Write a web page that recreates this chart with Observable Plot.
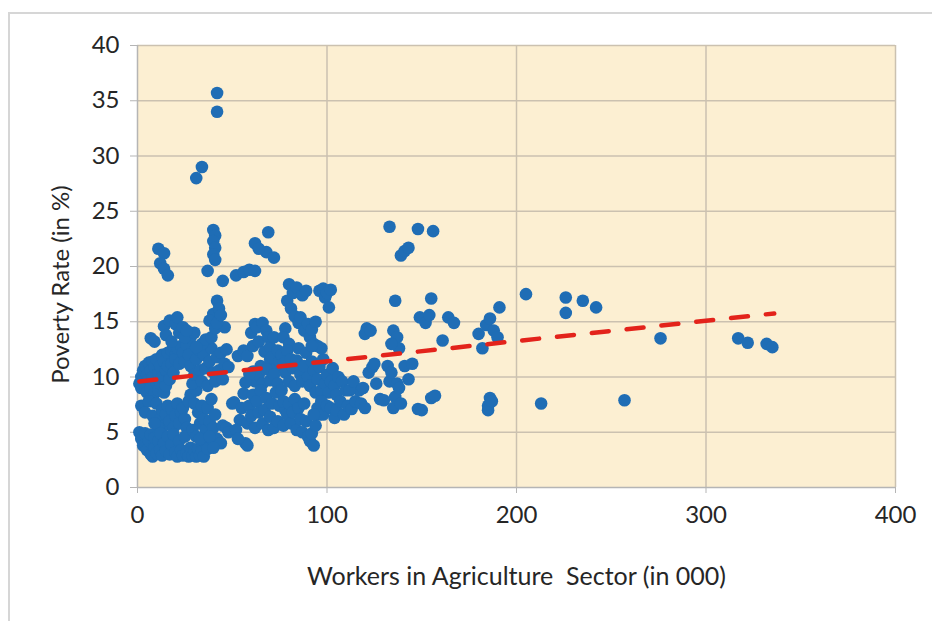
<!DOCTYPE html>
<html>
<head>
<meta charset="utf-8">
<script src="https://cdn.jsdelivr.net/npm/d3@7"></script>
<script src="https://cdn.jsdelivr.net/npm/@observablehq/plot@0.6"></script>
<style>
  html, body { margin: 0; padding: 0; background: #fff; }
  #wrap { position: relative; width: 932px; height: 621px; overflow: hidden; }
  #border { position: absolute; left: 8px; top: 12px; width: 940px; height: 640px; border: 2px solid #d6d6d6; box-sizing: border-box; }
  #chart { position: absolute; left: 0; top: 0; }
</style>
</head>
<body>
<div id="wrap"><div id="border"></div><div id="chart"></div></div>
<script>
// Workers in agriculture sector (in 000) and poverty rate (in %)
const workers = [
  42,42,34,31,
  40,41,40,41,40,41,37,45,52,56,59,62,
  11,14,12,14,16,
  62,69,68,72,64,
  1,2,2,3,3,4,4,5,5,6,6,7,7,8,8,9,9,10,10,11,11,12,12,13,13,14,14,15,15,16,16,17,18,18,19,20,20,21,22,23,24,25,26,27,28,
  2,4,6,8,10,12,13,14,15,16,17,18,19,20,21,22,23,24,25,11,9,26,27,
  1,2,3,4,5,6,7,7,8,9,9,10,11,12,12,13,14,15,16,17,18,19,20,21,22,23,24,25,26,27,28,29,30,31,32,33,34,35,36,37,
  28,30,31,32,33,34,35,36,37,38,39,40,41,42,44,45,47,48,50,29,31,33,38,40,
  29,30,31,32,33,34,35,36,37,38,39,40,41,42,43,44,45,46,48,47,34,36,28,31,
  7,9,14,15,17,18,20,21,22,24,25,39,40,38,41,42,43,46,42,44,30,26,
  53,56,58,60,61,62,63,64,65,66,67,68,69,70,70,71,72,73,74,75,61,62,64,66,68,70,72,74,57,59,
  51,54,55,56,57,58,59,60,61,62,63,64,65,66,67,68,69,70,71,72,73,74,75,76,77,78,58,52,53,
  79,80,81,82,83,84,85,86,87,88,89,90,91,92,93,95,96,98,99,100,101,102,94,78,77,80,
  76,77,78,79,80,81,82,83,84,85,86,87,88,89,90,91,92,93,94,95,96,97,98,99,100,101,102,103,104,105,106,108,110,97,92,
  77,79,80,81,82,83,84,85,86,87,88,89,90,91,92,93,94,95,96,97,98,100,102,104,105,107,109,111,93,
  113,115,117,118,120,122,124,125,126,128,130,132,133,134,135,136,137,138,139,141,143,145,148,112,114,119,121,120,123,135,137,138,136,134,
  133,148,156,139,141,143,155,149,152,154,155,157,150,
  161,164,167,180,182,184,186,188,190,191,205,226,226,235,242,186,185,185,187,213,257,276,317,322,332,335
];
const poverty = [
  35.7,34.0,29.0,28.0,
  23.3,22.8,22.3,21.7,21.1,20.6,19.6,18.7,19.2,19.5,19.7,19.6,
  21.6,21.2,20.3,19.8,19.2,
  22.1,23.1,21.3,20.8,21.6,
  9.4,10.0,9.0,10.6,9.6,11.0,9.2,10.2,8.6,11.3,9.8,10.6,9.0,11.4,10.0,8.5,10.9,9.5,11.6,10.3,8.8,11.0,9.4,12.0,10.0,11.4,8.6,10.6,9.2,12.2,11.0,9.8,12.4,11.2,10.4,12.0,11.6,12.6,11.2,12.8,12.2,11.4,12.9,12.0,11.0,
  7.4,6.8,7.8,6.5,7.6,6.2,7.0,5.6,6.6,7.4,6.0,7.1,5.4,6.5,7.6,5.8,6.8,7.2,6.2,5.4,5.8,5.4,7.8,
  5.0,4.4,3.8,4.9,3.4,4.2,3.0,4.8,2.8,3.6,4.5,3.1,4.2,3.4,4.9,2.9,4.0,3.3,4.6,3.0,3.9,4.8,3.2,2.8,4.2,3.4,2.9,4.6,3.1,2.8,3.6,2.9,3.3,2.8,3.5,2.9,3.3,2.8,4.0,3.5,
  8.4,7.6,8.8,6.8,5.8,7.4,6.2,5.2,7.2,6.0,8.0,5.4,6.6,4.4,4.0,5.6,5.4,5.0,7.6,5.2,4.6,4.4,4.6,3.6,
  9.4,10.2,11.6,12.5,10.6,9.6,12.0,10.8,9.2,11.4,12.6,10.4,9.6,11.8,10.6,12.2,9.8,11.2,10.9,12.5,13.0,13.4,13.6,12.7,
  13.5,13.2,14.6,13.8,15.1,13.2,14.8,15.4,14.0,14.5,13.6,13.6,15.7,15.1,14.4,16.9,16.2,14.5,14.9,15.6,14.0,14.2,
  11.9,12.4,11.9,14.0,12.8,14.8,14.5,13.2,11.0,14.9,12.3,14.2,13.6,11.6,12.7,11.8,13.6,10.8,12.4,11.4,10.5,9.6,10.2,9.4,10.7,9.7,10.2,9.4,9.5,10.3,
  7.7,6.1,7.2,8.5,4.0,5.8,7.4,6.5,8.4,5.4,7.8,6.8,8.8,5.8,7.0,8.1,5.2,6.4,7.6,5.4,8.6,6.0,7.4,8.8,5.6,7.0,3.8,5.2,4.4,
  16.9,18.4,16.2,17.6,15.5,18.1,14.9,15.4,17.4,14.2,17.8,14.8,13.6,14.3,13.0,12.8,17.8,18.0,17.2,17.6,16.3,17.9,15.0,14.4,13.6,13.0,
  12.0,11.2,10.4,12.4,9.6,11.6,10.8,9.2,11.5,12.6,10.2,9.6,11.0,12.2,10.0,9.2,11.4,10.6,8.6,9.8,10.9,8.8,11.6,9.4,10.2,8.6,9.6,10.8,9.2,8.4,10.0,9.6,8.8,12.6,12.8,
  7.8,6.6,7.6,5.8,6.8,8.0,5.2,7.2,6.2,5.0,7.6,6.0,4.6,4.2,4.9,3.8,5.6,7.2,6.6,7.8,6.6,7.4,7.2,6.3,7.0,7.8,6.6,7.4,6.6,
  7.1,7.8,8.8,7.6,7.2,10.4,10.9,11.2,9.4,8.0,7.9,11.0,9.6,10.4,7.2,8.2,9.4,9.0,7.6,11.0,9.8,11.2,7.1,8.8,9.6,9.0,14.4,13.9,14.2,14.2,13.6,12.6,16.9,13.0,
  23.6,23.4,23.2,21.0,21.4,21.7,17.1,15.4,14.9,15.6,8.1,8.3,7.0,
  13.3,15.4,14.9,13.9,12.6,14.7,15.3,14.2,13.6,16.3,17.5,17.2,15.8,16.9,16.3,8.1,7.4,7.0,7.8,7.6,7.9,13.5,13.5,13.1,13.0,12.7
];
// Dashed linear trend line end points
const trendWorkers = [1, 336];
const trendPoverty = [9.6, 15.75];

const xTicks = [0, 100, 200, 300, 400];
const yTicks = [0, 5, 10, 15, 20, 25, 30, 35, 40];
const xTitle = "Workers in Agriculture\u00a0 Sector (in 000)";
const yTitle = "Poverty Rate (in %)";

const points = workers.map((w, i) => ({w, p: poverty[i]}));
const trend = trendWorkers.map((w, i) => ({w, p: trendPoverty[i]}));

const font = "Lato, 'Open Sans', sans-serif";
const chart = Plot.plot({
  width: 932,
  height: 621,
  marginLeft: 137,
  marginRight: 37,
  marginTop: 45,
  marginBottom: 134,
  style: {background: "transparent", fontFamily: font, fontSize: "24px", color: "#262626"},
  x: {domain: [0, 400], ticks: xTicks, label: null},
  y: {domain: [0, 40], ticks: yTicks, label: null},
  marks: [
    Plot.frame({fill: "#fcefd2", stroke: null}),
    Plot.gridY(yTicks.filter(d => d > 0), {stroke: "#cbc1b0", strokeOpacity: 1, strokeWidth: 1.5}),
    Plot.gridX(xTicks.filter(d => d > 0), {stroke: "#cbc1b0", strokeOpacity: 1, strokeWidth: 1.5}),
    Plot.ruleY([0], {stroke: "#b5b5b5", strokeWidth: 1.5}),
    Plot.ruleX([0], {stroke: "#b5b5b5", strokeWidth: 1.5}),
    Plot.axisX(xTicks, {tickSize: 6, tickPadding: 12, stroke: "#b5b5b5", fill: "#262626", label: null, fontSize: 24}),
    Plot.axisY(yTicks, {tickSize: 7, tickPadding: 11, stroke: "#b5b5b5", fill: "#262626", label: null, fontSize: 24}),
    Plot.dot(points, {x: "w", y: "p", r: 6.3, fill: "#1f6db5", stroke: null}),
    Plot.line(trend, {x: "w", y: "p", stroke: "#e3231b", strokeWidth: 4.5, strokeDasharray: "17,18"}),
    Plot.text([xTitle], {frameAnchor: "bottom", dy: 97, text: d => d, fontSize: 25, fill: "#262626"}),
    Plot.text([yTitle], {frameAnchor: "left", textAnchor: "middle", dx: -76, dy: 18, rotate: -90, text: d => d, fontSize: 24, fill: "#262626"})
  ]
});
document.getElementById("chart").appendChild(chart);
</script>
</body>
</html>
